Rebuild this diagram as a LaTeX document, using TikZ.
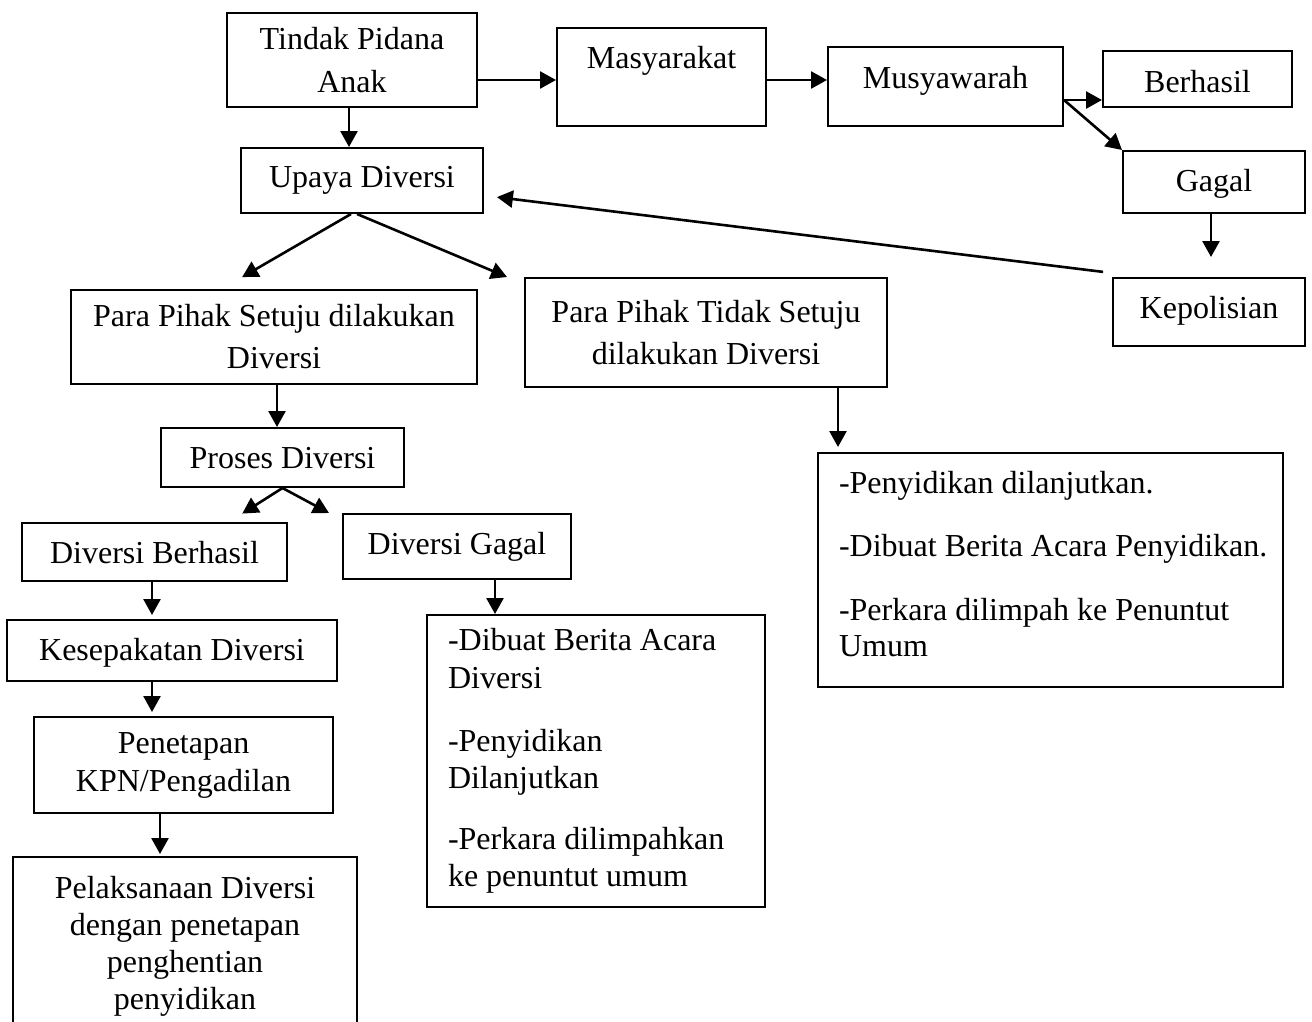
\documentclass[tikz,border=0pt]{standalone}
\usepackage{fontspec}
\setmainfont{Liberation Serif}
\usetikzlibrary{arrows.meta}
\begin{document}
\begin{tikzpicture}[x=1pt,y=-1pt,
  box/.style={draw, line width=2pt, inner sep=0pt, font=\fontsize{32}{37}\selectfont, align=center},
  one/.style={box, text depth=0pt, text height=#1},
  lbox/.style={box, align=flush left, inner xsep=21pt, inner ysep=0pt},
  arr/.style={line width=2.6pt, -{Triangle[length=16pt,width=17pt]}},
]
\clip (0,0) rectangle (1312,1021);
\fill[white] (0,0) rectangle (1312,1021);

% top row
\node[box, minimum width=250pt, minimum height=94pt] (tindak) at (352,60) {Tindak Pidana\\[6pt]Anak};
\node[box, minimum width=209pt, minimum height=98pt, text height=0pt, text depth=18pt] (masy) at (661.5,77) {Masyarakat};
\node[one=3pt, minimum width=235pt, minimum height=79pt] (musy) at (945.5,86.5) {Musyawarah};
\node[one=26pt, minimum width=189pt, minimum height=56pt] (berhasil) at (1197.5,79) {Berhasil};
\node[one=18pt, minimum width=182pt, minimum height=62pt] (gagal) at (1214,182) {Gagal};
\node[one=12pt, minimum width=192pt, minimum height=68pt] (kep) at (1209,312) {Kepolisian};
\node[one=13pt, minimum width=242pt, minimum height=65pt] (upaya) at (362,180.5) {Upaya Diversi};

% second level
\node[box, minimum width=406pt, minimum height=94pt] (setuju) at (274,337) {Para Pihak Setuju dilakukan\\[5pt]Diversi};
\node[box, minimum width=362pt, minimum height=109pt] (tidak) at (706,332.5) {Para Pihak Tidak Setuju\\[5pt]dilakukan Diversi};
\node[lbox, text width=423pt, minimum width=465pt, minimum height=234pt] (penyid) at (1050.5,570)
  {-Penyidikan dilanjutkan.\\[26pt]\mbox{-Dibuat Berita Acara Penyidikan.}\\[27pt]-Perkara dilimpah ke Penuntut\\[-1pt]Umum\rule[-13pt]{0pt}{1pt}};

% left branch
\node[one=21pt, minimum width=243pt, minimum height=59pt] (proses) at (282.5,457.5) {Proses Diversi};
\node[one=22pt, minimum width=265pt, minimum height=58pt] (db) at (154.5,552) {Diversi Berhasil};
\node[one=15pt, minimum width=228pt, minimum height=65pt] (dg) at (457,546.5) {Diversi Gagal};
\node[one=19pt, minimum width=330pt, minimum height=61pt] (kes) at (172,650.5) {Kesepakatan Diversi};
\node[box, minimum width=299pt, minimum height=96pt] (pen) at (183.5,765) {Penetapan\\[1pt]KPN/Pengadilan};
\node[box, minimum width=344pt, minimum height=179pt] (pelak) at (185,946.5) {Pelaksanaan Diversi\\dengan penetapan\\penghentian\\penyidikan};
\node[lbox, text width=296pt, minimum width=338pt, minimum height=292pt] (dibuat) at (596,761)
  {-Dibuat Berita Acara\\[1pt]Diversi\\[26pt]-Penyidikan\\Dilanjutkan\\[24pt]-Perkara dilimpahkan\\ke penuntut umum\rule[-5pt]{0pt}{1pt}};

% connectors
\draw[arr] ([xshift=-3pt]tindak.south) -- ([xshift=-3pt]tindak.south |- upaya.north);
\draw[arr] ([yshift=-20pt]tindak.east) -- ([yshift=-3pt]masy.west);
\draw[arr] ([yshift=-3pt]masy.east) -- ([yshift=6.5pt]musy.west);
\draw[arr] ([yshift=-13.5pt]musy.east) -- ([yshift=-21pt]berhasil.west);
\draw[arr] ([yshift=-13.5pt]musy.east) -- (gagal.north west);
\draw[arr, shorten >=20pt] ([xshift=-3pt]gagal.south) -- ([xshift=-3pt]gagal.south |- kep.north);
\draw[arr, shorten <=9pt, shorten >=13pt] ([yshift=4pt]kep.north west) -- ([yshift=-15pt]upaya.east);
\draw[arr, shorten >=23.7pt] ([xshift=-11pt]upaya.south) -- (221.6,0 |- setuju.north);
\draw[arr] ([xshift=-5pt]upaya.south) -- ([xshift=-17pt]tidak.north west);
\draw[arr] ([xshift=3pt]setuju.south) -- ([xshift=3pt]setuju.south |- proses.north);
\draw[arr, shorten >=5pt] (838,0 |- tidak.south) -- (838,0 |- penyid.north);
\draw[arr, shorten >=15.7pt] (proses.south) -- (229,0 |- db.north);
\draw[arr] (proses.south) -- ([xshift=-13pt]dg.north west);
\draw[arr, shorten >=4pt] ([xshift=-2.5pt]db.south) -- ([xshift=-2.5pt]db.south |- kes.north);
\draw[arr, shorten >=4pt] ([xshift=-20pt]kes.south) -- ([xshift=-20pt]kes.south |- pen.north);
\draw[arr, shorten >=2pt] ([xshift=-23.5pt]pen.south) -- ([xshift=-23.5pt]pen.south |- pelak.north);
\draw[arr] ([xshift=38pt]dg.south) -- ([xshift=38pt]dg.south |- dibuat.north);
\end{tikzpicture}
\end{document}
